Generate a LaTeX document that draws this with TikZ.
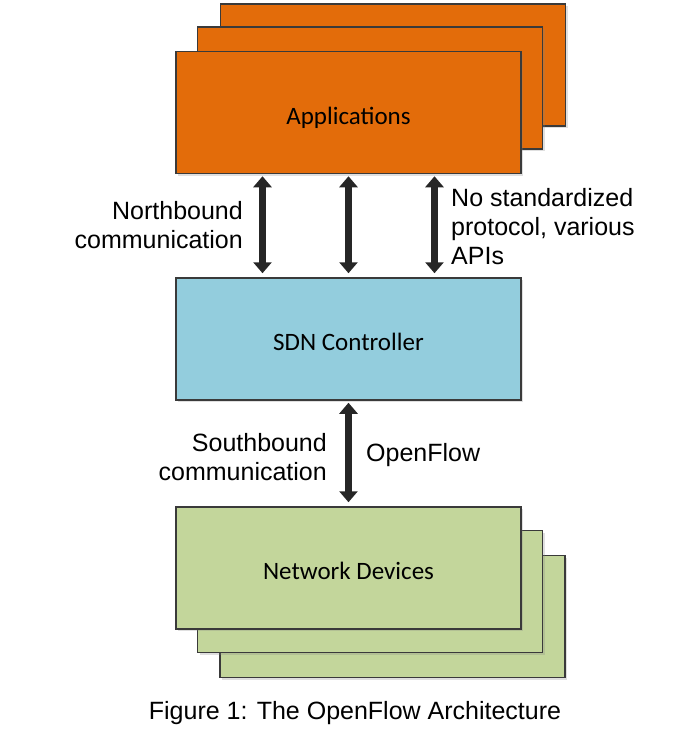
\documentclass[tikz,border=0pt]{standalone}
\usepackage{fontspec}
\setmainfont{Liberation Sans}
\newfontfamily\boxfont{Carlito}
\usetikzlibrary{arrows.meta,shadows}
\definecolor{appcol}{HTML}{E36C0A}
\definecolor{ctrlcol}{HTML}{93CDDD}
\definecolor{devcol}{HTML}{C3D69B}
\definecolor{edgecol}{HTML}{3A3A3A}
\definecolor{arrcol}{HTML}{262626}

\tikzset{
	layer/.style={rectangle,draw=edgecol,line width=1.5pt,minimum width=345pt,minimum height=122pt,
		text height=23pt,text depth=0pt,font=\boxfont\fontsize{25}{29}\selectfont,
		drop shadow={opacity=0.25,shadow xshift=2pt,shadow yshift=-2pt}},
	label/.style={inner sep=0pt,font=\fontsize{25}{29}\selectfont},
	link/.style={draw=arrcol,line width=6.5pt,{Triangle[width=18pt,length=11pt]}-{Triangle[width=18pt,length=11pt]},shorten <=2pt,shorten >=4pt}
}

\begin{document}
\begin{tikzpicture}[x=1pt,y=-1pt]
	\useasboundingbox (0,0) rectangle (679,734);
	\node[layer,fill=appcol] (apps3) at (393,65) {};
	\node[layer,fill=appcol] (apps2) at (370,88) {};
	\node[layer,fill=appcol] (apps) at (348.5,112.5) {Applications};
	\node[layer,fill=ctrlcol] (ctrl) at (348.5,339) {SDN Controller};
	\node[layer,fill=devcol] (dev3) at (392.5,616.5) {};
	\node[layer,fill=devcol] (dev2) at (370,591.5) {};
	\node[layer,fill=devcol] (dev) at (348.5,568) {Network Devices};

	\draw[link] ([xshift=-86pt]apps.south) -- ([xshift=-86pt]ctrl.north);
	\draw[link] (apps.south) -- (ctrl.north);
	\draw[link] ([xshift=86pt]apps.south) -- ([xshift=86pt]ctrl.north);
	\draw[link] (ctrl.south) -- (dev.north);

	\node[label,align=right,anchor=east] (north) at (243,225) {Northbound\\communication};
	\node[label,align=left,anchor=west] (apis) at (451,227) {No standardized\\protocol, various\\APIs};
	\node[label,align=right,anchor=east] (south) at (327,457) {Southbound\\communication};
	\node[label,anchor=west] (of) at (366,455) {OpenFlow};
	\node[label] (caption) at (355,713) {Figure 1: The OpenFlow Architecture};
\end{tikzpicture}
\end{document}
